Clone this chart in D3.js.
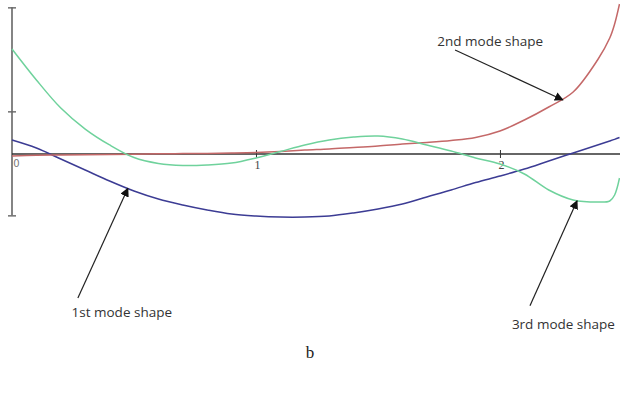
<!DOCTYPE html>
<html>
<head>
<meta charset="utf-8">
<script src="https://cdn.jsdelivr.net/npm/d3@7"></script>
<style>
  body { margin: 0; background: #fff; }
  svg { display: block; }
</style>
</head>
<body>
<div id="chart"></div>
<script>
// positions along the beam
const xValues = [0, 0.1, 0.2, 0.3, 0.4, 0.5, 0.6, 0.7, 0.8, 0.9, 1.0, 1.1, 1.2, 1.3, 1.4, 1.5, 1.6, 1.7, 1.8, 1.9, 2.0, 2.1, 2.2, 2.3, 2.4, 2.45, 2.47, 2.49];

const mode1 = [0.135, 0.058, -0.048, -0.154, -0.26, -0.356, -0.433, -0.49, -0.538, -0.577, -0.596, -0.606, -0.606, -0.596, -0.567, -0.529, -0.481, -0.413, -0.346, -0.274, -0.212, -0.145, -0.067, 0.01, 0.087, 0.125, 0.141, 0.159];
const mode2 = [-0.019, -0.012, -0.01, -0.008, -0.006, -0.003, 0.002, 0.004, 0.006, 0.009, 0.014, 0.024, 0.038, 0.048, 0.063, 0.077, 0.096, 0.111, 0.13, 0.159, 0.221, 0.327, 0.452, 0.596, 0.904, 1.115, 1.25, 1.442];
const mode3 = [1.01, 0.712, 0.442, 0.24, 0.087, -0.034, -0.091, -0.111, -0.106, -0.087, -0.038, 0.024, 0.087, 0.135, 0.163, 0.173, 0.144, 0.087, 0.029, -0.038, -0.096, -0.192, -0.346, -0.442, -0.462, -0.452, -0.394, -0.231];

const xTicks = [0, 1, 2];
const yTicks = [-0.59, 0.41, 1.41];

const seriesNames = ["1st mode shape", "2nd mode shape", "3rd mode shape"];
const seriesColors = ["#3c3c94", "#c46868", "#6fd29c"];

// label position, arrow tail and arrow tip (data units)
const labelAt = [[0.45, -1.565], [1.96, 1.04], [2.26, -1.68]];
const arrowFrom = [[0.27, -1.385], [1.816, 1.0], [2.123, -1.46]];
const arrowTo = [[0.475, -0.33], [2.258, 0.52], [2.316, -0.45]];

const width = 620, height = 396;

const x = d3.scaleLinear().domain([0, 2.492]).range([12, 620]);
const y = d3.scaleLinear().domain([0, 1]).range([154, 50]);

const svg = d3.select("#chart").append("svg")
    .attr("width", width)
    .attr("height", height);

svg.append("defs").append("marker")
    .attr("id", "head")
    .attr("viewBox", "0 0 10 10")
    .attr("refX", 9).attr("refY", 5)
    .attr("markerWidth", 9).attr("markerHeight", 9)
    .attr("markerUnits", "userSpaceOnUse")
    .attr("orient", "auto")
    .append("path")
    .attr("d", "M0,0 L10,5 L0,10 z")
    .attr("fill", "#111");

// y axis (no labels)
const yAxis = svg.append("g")
    .attr("transform", `translate(${x(0)},0)`)
    .call(d3.axisLeft(y).tickValues(yTicks).tickSize(4).tickFormat(""));
yAxis.select(".domain").remove();
yAxis.append("line")
    .attr("y1", y(1.41)).attr("y2", y(-0.59))
    .attr("stroke", "#666").attr("stroke-width", 1.6);
yAxis.selectAll(".tick line")
    .attr("x1", -4).attr("x2", 4)
    .attr("stroke", "#666").attr("stroke-width", 1.4);

// x axis along zero
const xAxis = svg.append("g")
    .attr("transform", `translate(0,${y(0)})`)
    .call(d3.axisBottom(x).tickValues(xTicks).tickSize(4).tickFormat(d3.format("d")));
xAxis.select(".domain")
    .attr("d", `M${x(0)},0H${width}`)
    .attr("stroke", "#333").attr("stroke-width", 1.3);
xAxis.selectAll(".tick line")
    .attr("y1", -4).attr("y2", 4)
    .attr("stroke", "#333");
xAxis.selectAll(".tick line").filter(d => d === 0).remove();
xAxis.selectAll(".tick text")
    .attr("y", 6)
    .attr("dx", d => d === 0 ? 4 : 1)
    .style("font-family", d => d === 0 ? "DejaVu Sans" : "Liberation Serif")
    .style("font-size", d => d === 0 ? "10px" : "12px")
    .attr("fill", d => d === 0 ? "#777" : "#444");

const line = d3.line()
    .x((d, i) => x(xValues[i]))
    .y(d => y(d))
    .curve(d3.curveCatmullRom);

[mode1, mode2, mode3].forEach((vals, i) => {
    svg.append("path")
        .datum(vals)
        .attr("d", line)
        .attr("fill", "none")
        .attr("stroke", seriesColors[i])
        .attr("stroke-width", 1.5);
});

seriesNames.forEach((name, i) => {
    svg.append("line")
        .attr("x1", x(arrowFrom[i][0])).attr("y1", y(arrowFrom[i][1]))
        .attr("x2", x(arrowTo[i][0])).attr("y2", y(arrowTo[i][1]))
        .attr("stroke", "#222").attr("stroke-width", 1.2)
        .attr("marker-end", "url(#head)");
    svg.append("text")
        .attr("x", x(labelAt[i][0])).attr("y", y(labelAt[i][1]))
        .attr("text-anchor", "middle")
        .style("font-family", "Open Sans")
        .style("font-size", "13.5px")
        .attr("fill", "#333")
        .text(name);
});

svg.append("text")
    .attr("x", 310).attr("y", 358)
    .attr("text-anchor", "middle")
    .style("font-family", "Liberation Serif")
    .style("font-size", "17px")
    .attr("fill", "#222")
    .text("b");
</script>
</body>
</html>
